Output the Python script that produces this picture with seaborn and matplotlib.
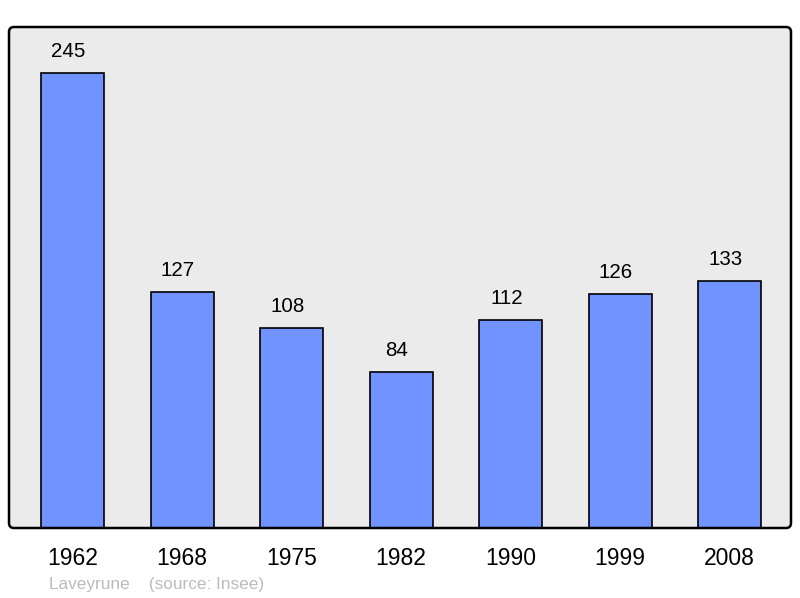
import matplotlib
matplotlib.use("Agg")
import matplotlib.pyplot as plt
from matplotlib.patches import FancyBboxPatch
import seaborn as sns
import pandas as pd

years = ["1962", "1968", "1975", "1982", "1990", "1999", "2008"]
population = [245, 127, 108, 84, 112, 126, 133]

sns.set_theme(style="white")
plt.rcParams['font.family'] = ['Liberation Sans', 'DejaVu Sans']

df = pd.DataFrame({"year": years, "pop": population})

W, H = 800, 598
fig = plt.figure(figsize=(8, 5.98), dpi=100)
rect = [9/W, 70/H, 782/W, 501/H]
ax = fig.add_axes(rect)
ax.patch.set_visible(False)

# rounded background and frame
r = 5
bg = FancyBboxPatch((rect[0], rect[1]), rect[2], rect[3],
                    boxstyle=f"round,pad=0,rounding_size={r/W}",
                    mutation_aspect=W/H, transform=fig.transFigure,
                    facecolor="#EBEBEB", edgecolor="none", zorder=-5)
fig.patches.append(bg)
frame = FancyBboxPatch((rect[0], rect[1]), rect[2], rect[3],
                       boxstyle=f"round,pad=0,rounding_size={r/W}",
                       mutation_aspect=W/H, transform=fig.transFigure,
                       facecolor="none", edgecolor="black", linewidth=1.8, zorder=5)

sns.barplot(data=df, x="year", y="pop", color="#7093FF", width=0.575,
            edgecolor="black", linewidth=1.2, saturation=1, ax=ax)

for i, v in enumerate(population):
    ax.annotate(str(v), xy=(i, v), xytext=(-3, 15.5), textcoords="offset points",
                ha="center", va="center", fontsize=14.8, color="black")

ax.set_xlim(-0.58, 6.56)
ax.set_ylim(0, 270)
ax.set_xlabel("")
ax.set_ylabel("")
ax.set_yticks([])
ax.tick_params(axis="x", length=0, pad=14, labelsize=16.5, colors="black")
for s in ax.spines.values():
    s.set_visible(False)

fig.add_artist(frame)

fig.text(49/W, 1 - 584/H, "Laveyrune    (source: Insee)", color="#BBBBBB",
         fontsize=12.4, ha="left", va="center")

fig.savefig("out.png", dpi=100)
